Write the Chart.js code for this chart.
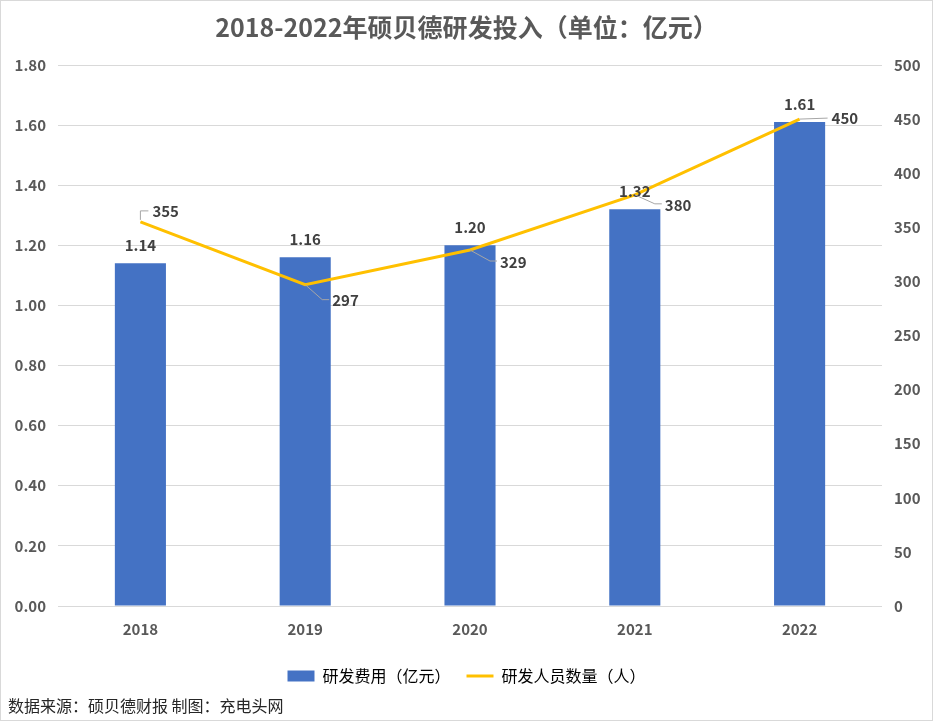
<!DOCTYPE html>
<html>
<head>
<meta charset="utf-8">
<script src="https://cdn.jsdelivr.net/npm/chart.js@4/dist/chart.umd.min.js"></script>
<style>
  html, body { margin: 0; padding: 0; background: #fff; }
  #wrap { width: 931px; height: 719px; border: 1px solid #d9d9d9; position: relative; }
</style>
</head>
<body>
<div id="wrap"><canvas id="rdChart" width="931" height="719"></canvas></div>
<script>
// Chart data
const years = ['2018', '2019', '2020', '2021', '2022'];
const rdCost = [1.14, 1.16, 1.20, 1.32, 1.61];      // 研发费用（亿元）
const rdStaff = [355, 297, 329, 380, 450];          // 研发人员数量（人）
const leftTicks = [0, 0.2, 0.4, 0.6, 0.8, 1.0, 1.2, 1.4, 1.6, 1.8];
const rightTicks = [0, 50, 100, 150, 200, 250, 300, 350, 400, 450, 500];

// Label placement for the staff line (offsets from the point, in px)
const staffLabelOffsets = [
    { dx: 12, dy: -11, leader: 'elbow' },
    { dx: 27, dy: 16, leader: 'diag' },
    { dx: 30, dy: 12, leader: 'diag' },
    { dx: 30, dy: 10, leader: 'diag' },
    { dx: 32, dy: -1, leader: 'flat' }
];

const textColor = '#595959';
const labelColor = '#404040';
const fontFamily = '"Noto Sans CJK SC", "Noto Sans", sans-serif';

// Draws value labels, leader lines and the source note
const labelPlugin = {
    id: 'labelPlugin',
    afterDatasetsDraw(chart) {
        const ctx = chart.ctx;
        ctx.save();
        ctx.font = 'bold 15px ' + fontFamily;
        ctx.fillStyle = labelColor;
        ctx.textBaseline = 'middle';

        // bar labels
        ctx.textAlign = 'center';
        chart.getDatasetMeta(0).data.forEach((bar, i) => {
            ctx.fillText(rdCost[i].toFixed(2), bar.x, bar.y - 18);
        });

        // line labels
        ctx.textAlign = 'left';
        chart.getDatasetMeta(1).data.forEach((pt, i) => {
            const o = staffLabelOffsets[i];
            const lx = pt.x + o.dx;
            const ly = pt.y + o.dy;
            ctx.strokeStyle = '#a6a6a6';
            ctx.lineWidth = 1;
            ctx.beginPath();
            if (o.leader === 'elbow') {
                ctx.moveTo(pt.x, pt.y - 2);
                ctx.lineTo(pt.x, ly);
                ctx.lineTo(lx - 4, ly);
            } else if (o.leader === 'diag') {
                ctx.moveTo(pt.x, pt.y);
                ctx.lineTo(lx - 10, ly - 1);
                ctx.lineTo(lx - 3, ly - 1);
            } else {
                ctx.moveTo(pt.x, pt.y);
                ctx.lineTo(lx - 4, ly);
            }
            ctx.stroke();
            ctx.fillText(String(rdStaff[i]), lx, ly);
        });

        // source note
        ctx.font = '16px ' + fontFamily;
        ctx.fillStyle = '#262626';
        ctx.fillText('数据来源：硕贝德财报 制图：充电头网', 7, 705);
        ctx.restore();
    }
};

const ctx = document.getElementById('rdChart');
new Chart(ctx, {
    data: {
        labels: years,
        datasets: [{
            type: 'bar',
            label: '研发费用（亿元）',
            data: rdCost,
            backgroundColor: '#4472C4',
            yAxisID: 'y',
            categoryPercentage: 1,
            barPercentage: 0.31,
            order: 2
        }, {
            type: 'line',
            label: '研发人员数量（人）',
            data: rdStaff,
            borderColor: '#FFC000',
            backgroundColor: '#FFC000',
            borderWidth: 3,
            pointRadius: 0,
            tension: 0,
            yAxisID: 'y1',
            order: 1
        }]
    },
    options: {
        responsive: false,
        animation: false,
        layout: { padding: { left: 0, right: 0, top: 0, bottom: 26 } },
        scales: {
            x: {
                grid: { display: false },
                border: { display: false },
                afterFit: axis => { axis.height = 46; },
                ticks: { color: textColor, font: { family: fontFamily, size: 15, weight: 'bold' }, padding: 6 }
            },
            y: {
                position: 'left',
                min: 0,
                max: 1.8,
                afterFit: axis => { axis.width = 57; },
                afterBuildTicks: axis => { axis.ticks = leftTicks.map(v => ({ value: v })); },
                grid: { color: '#d9d9d9', drawTicks: false },
                border: { display: false },
                ticks: {
                    color: textColor,
                    padding: 12,
                    font: { family: fontFamily, size: 15, weight: 'bold' },
                    callback: v => v.toFixed(2)
                }
            },
            y1: {
                position: 'right',
                min: 0,
                max: 500,
                afterFit: axis => { axis.width = 50; },
                afterBuildTicks: axis => { axis.ticks = rightTicks.map(v => ({ value: v })); },
                grid: { display: false, drawTicks: false },
                border: { display: false },
                ticks: { color: textColor, padding: 12, font: { family: fontFamily, size: 15, weight: 'bold' } }
            }
        },
        plugins: {
            title: {
                display: true,
                text: '2018-2022年硕贝德研发投入（单位：亿元）',
                color: textColor,
                font: { family: fontFamily, size: 25, weight: 'bold' },
                padding: { top: 11, bottom: 23 }
            },
            legend: {
                position: 'bottom',
                labels: {
                    color: textColor,
                    font: { family: fontFamily, size: 16 },
                    usePointStyle: true,
                    pointStyleWidth: 27,
                    boxWidth: 27,
                    boxHeight: 11,
                    padding: 16,
                    generateLabels: chart => chart.data.datasets.map((ds, i) => ({
                        text: ds.label,
                        fillStyle: ds.backgroundColor,
                        strokeStyle: ds.type === 'line' ? ds.borderColor : ds.backgroundColor,
                        lineWidth: ds.type === 'line' ? 3 : 0,
                        pointStyle: ds.type === 'line' ? 'line' : 'rect',
                        datasetIndex: i
                    }))
                }
            },
            tooltip: { enabled: false }
        }
    },
    plugins: [labelPlugin]
});
</script>
</body>
</html>
